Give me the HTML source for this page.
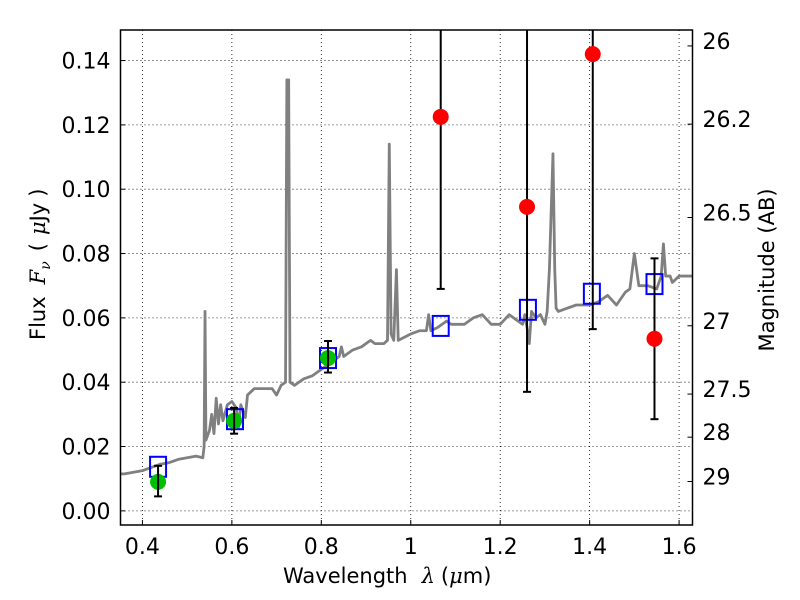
<!DOCTYPE html>
<html><head><meta charset="utf-8"><style>
body{margin:0;background:#fff;}
svg{display:block;font-family:"DejaVu Sans","Liberation Sans",sans-serif;}
.m{font-family:"DejaVu Serif","Liberation Serif",serif;font-style:italic;}
</style></head><body>
<svg id="chart" width="800" height="600"></svg>
<script>
const specX=[0.35,0.36,0.38,0.40,0.42,0.44,0.46,0.48,0.50,0.52,0.535,0.538,0.540,0.542,0.55,0.555,0.56,0.565,0.57,0.575,0.58,0.59,0.60,0.61,0.615,0.62,0.63,0.635,0.65,0.67,0.69,0.70,0.71,0.72,0.723,0.727,0.73,0.74,0.76,0.78,0.80,0.82,0.84,0.845,0.85,0.87,0.89,0.91,0.92,0.94,0.948,0.952,0.956,0.962,0.968,0.972,1.0,1.02,1.035,1.04,1.045,1.06,1.08,1.09,1.10,1.12,1.14,1.16,1.18,1.20,1.22,1.24,1.25,1.255,1.26,1.265,1.27,1.28,1.29,1.30,1.305,1.31,1.318,1.322,1.325,1.33,1.35,1.37,1.40,1.42,1.44,1.46,1.48,1.49,1.50,1.51,1.53,1.55,1.56,1.565,1.57,1.58,1.585,1.60,1.63];
const specY=[0.0115,0.0115,0.012,0.0125,0.0135,0.0145,0.015,0.016,0.0165,0.017,0.0165,0.020,0.062,0.022,0.025,0.030,0.024,0.035,0.027,0.033,0.028,0.033,0.034,0.032,0.026,0.033,0.029,0.036,0.038,0.038,0.038,0.036,0.039,0.040,0.134,0.134,0.040,0.039,0.041,0.042,0.044,0.046,0.048,0.051,0.048,0.050,0.051,0.053,0.052,0.052,0.053,0.114,0.055,0.053,0.075,0.053,0.055,0.056,0.056,0.061,0.056,0.057,0.059,0.058,0.058,0.058,0.060,0.061,0.058,0.058,0.061,0.059,0.058,0.061,0.057,0.052,0.062,0.060,0.061,0.058,0.062,0.075,0.111,0.075,0.063,0.062,0.063,0.064,0.064,0.065,0.067,0.064,0.068,0.069,0.080,0.070,0.070,0.069,0.073,0.083,0.073,0.073,0.071,0.073,0.073];
const detX=[0.435,0.605,0.815];
const detY=[0.009,0.028,0.0475];
const detLo=[0.0045,0.024,0.043];
const detHi=[0.014,0.032,0.0528];
const ulX=[1.067,1.26,1.407,1.545];
const ulY=[0.1225,0.0945,0.142,0.0535];
const ulLo=[0.069,0.037,0.0565,0.0285];
const ulHi=[0.2,0.2,0.2,0.0785];
const modX=[0.435,0.607,0.815,1.067,1.262,1.405,1.545];
const modY=[0.0137,0.0285,0.0475,0.0575,0.0625,0.0675,0.0705];
const xTicks=[0.4,0.6,0.8,1.0,1.2,1.4,1.6];
const xTickLabels=["0.4","0.6","0.8","1","1.2","1.4","1.6"];
const yTicks=[0,0.02,0.04,0.06,0.08,0.10,0.12,0.14];
const yTickLabels=["0.00","0.02","0.04","0.06","0.08","0.10","0.12","0.14"];
const magTicks=[26,26.2,26.5,27,27.5,28,29];
const magLabels=["26","26.2","26.5","27","27.5","28","29"];

const L=120.5,R=692.5,T=30,B=525;
const X0=0.351,X1=1.630,Y0=-0.0044,Y1=0.1495;
const sx=v=>L+(v-X0)/(X1-X0)*(R-L);
const sy=v=>B-(v-Y0)/(Y1-Y0)*(B-T);
const NS="http://www.w3.org/2000/svg";
const svg=document.getElementById('chart');
function mk(tag,attrs,parent){const e=document.createElementNS(NS,tag);for(const k in attrs)e.setAttribute(k,attrs[k]);(parent||svg).appendChild(e);return e;}

const clip=mk('clipPath',{id:'pc'});mk('rect',{x:L,y:T,width:R-L,height:B-T},clip);
const plot=mk('g',{'clip-path':'url(#pc)'});



xTicks.forEach((v,i)=>{
 const g=mk('line',{x1:sx(v),x2:sx(v),y1:T,y2:B,stroke:'#000','stroke-width':0.8,'stroke-dasharray':'1,3'},plot);
 
 
 const t=mk('line',{x1:sx(v),x2:sx(v),y1:B,y2:B-5,stroke:'#000','stroke-width':1});
 
 
 const l=mk('text',{x:sx(v),y:B+29,'text-anchor':'middle','font-size':22});
 l.textContent=xTickLabels[i];
 
 
});
yTicks.forEach((v,i)=>{
 const g=mk('line',{x1:L,x2:R,y1:sy(v),y2:sy(v),stroke:'#000','stroke-width':0.8,'stroke-dasharray':'1,3'},plot);
 
 
 const t=mk('line',{x1:L,x2:L+5,y1:sy(v),y2:sy(v),stroke:'#000','stroke-width':1});
 
 
 const l=mk('text',{x:L-10,y:sy(v)+8,'text-anchor':'end','font-size':22});
 l.textContent=yTickLabels[i];
 
 
});
magTicks.forEach((m,i)=>{
 const f=Math.pow(10,-0.4*(m-23.9));
 const t=mk('line',{x1:R,x2:R-5,y1:sy(f),y2:sy(f),stroke:'#000','stroke-width':1});
 
 
 const l=mk('text',{x:R+10,y:sy(f)+3,'font-size':22});
 l.textContent=magLabels[i];
 
 
});

const sp=mk('polyline',{points:specX.map((x,i)=>sx(x)+','+sy(specY[i])).join(' '),fill:'none',stroke:'#808080','stroke-width':2.8,'stroke-linejoin':'round'},plot);



modX.forEach((x,i)=>{
 const r=mk('rect',{x:sx(x)-8,y:sy(modY[i])-10,width:16,height:20,fill:'none',stroke:'#0000ff','stroke-width':2},plot);
 
 
});
function err(x,lo,hi){
 const e=mk('g',{stroke:'#000','stroke-width':2},plot);
 
 
 mk('line',{x1:sx(x),x2:sx(x),y1:sy(lo),y2:sy(hi)},e);
 mk('line',{x1:sx(x)-4,x2:sx(x)+4,y1:sy(lo),y2:sy(lo)},e);
 mk('line',{x1:sx(x)-4,x2:sx(x)+4,y1:sy(hi),y2:sy(hi)},e);
}
detX.forEach((x,i)=>{
 const c=mk('circle',{cx:sx(x),cy:sy(detY[i]),r:8,fill:'#00c000'},plot);
 
 
 err(x,detLo[i],detHi[i]);
});
ulX.forEach((x,i)=>{
 err(x,ulLo[i],ulHi[i]);
 const c=mk('circle',{cx:sx(x),cy:sy(ulY[i]),r:8,fill:'#ff0000'},plot);
 
 
});

const fr=mk('rect',{x:L,y:T,width:R-L,height:B-T,fill:'none',stroke:'#000','stroke-width':1.5});



const xl=mk('text',{x:283,y:583,'font-size':21});
xl.innerHTML='Wavelength<tspan dx="14" class="m">λ</tspan><tspan dx="6">(</tspan><tspan class="m">μ</tspan>m)';


const yl=mk('text',{x:0,y:0,'font-size':21,transform:'translate(45,340) rotate(-90)'});
yl.innerHTML='Flux<tspan dx="12" class="m">F</tspan><tspan class="m" font-size="14" dy="5">ν</tspan><tspan dy="-5" dx="10">(</tspan><tspan dx="8" class="m">μ</tspan>Jy<tspan dx="6">)</tspan>';


const ml=mk('text',{x:0,y:0,'text-anchor':'middle','font-size':21,transform:'translate(774,270) rotate(-90)'});
ml.textContent='Magnitude (AB)';


</script>
</body></html>
